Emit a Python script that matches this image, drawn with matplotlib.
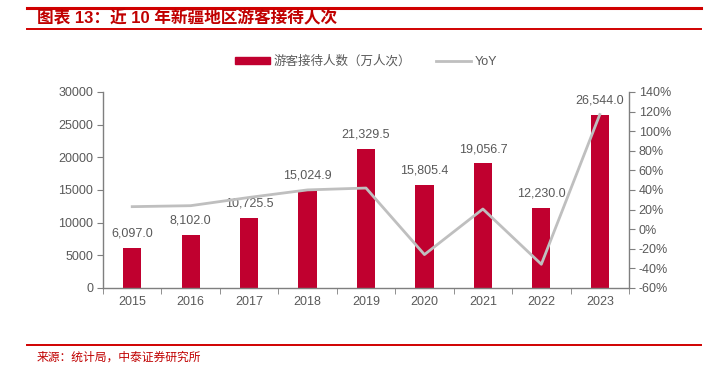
import matplotlib
matplotlib.use("Agg")
import matplotlib.pyplot as plt
from matplotlib.patches import Rectangle
from matplotlib.lines import Line2D
from matplotlib.ticker import FuncFormatter

plt.rcParams['font.family'] = ['Liberation Sans', 'Noto Sans CJK SC', 'DejaVu Sans']

years = ['2015', '2016', '2017', '2018', '2019', '2020', '2021', '2022', '2023']
visitors = [6097.0, 8102.0, 10725.5, 15024.9, 21329.5, 15805.4, 19056.7, 12230.0, 26544.0]
yoy = [23.0, 24.0, 32.4, 40.1, 42.0, -25.9, 20.6, -35.8, 117.0]
bar_label = '游客接待人数（万人次）'
line_label = 'YoY'
title = '图表 13：近 10 年新疆地区游客接待人次'
source = '来源：统计局，中泰证券研究所'

W, H = 708, 367
fig = plt.figure(figsize=(W / 100, H / 100), dpi=100)

red = '#C0002F'
grey_line = '#BFBFBF'
txt = '#595959'
spine_c = '#7F7F7F'

def fx(px):
    return px / W

def fy(py):
    return 1 - py / H

# header / footer lines
fig.add_artist(Line2D([fx(27), fx(701)], [fy(7.5), fy(7.5)], color='#D00000', lw=2.2))
fig.add_artist(Line2D([fx(27), fx(701)], [fy(29.3), fy(29.3)], color='#D00000', lw=1.4))
fig.add_artist(Line2D([fx(27), fx(701)], [fy(345.3), fy(345.3)], color='#D00000', lw=1.4))
fig.text(fx(37), fy(18.5), title, color='#C00000', fontsize=12, fontweight='bold',
         va='center', ha='left')
fig.text(fx(37), fy(358), source, color='#C00000', fontsize=8.5, va='center', ha='left')

ax = fig.add_axes([fx(103), fy(288), fx(629) - fx(103), fy(92) - fy(288)])
x = list(range(len(years)))
bars = ax.bar(x, visitors, width=0.31, color=red, zorder=2)
ax.set_xlim(-0.5, len(years) - 0.5)
ax.set_ylim(0, 30000)
ax.set_yticks(range(0, 30001, 5000))
ax.set_xticks(x)
ax.set_xticklabels(years)
ax.set_xticks([i + 0.5 for i in range(-1, len(years))], minor=True)
ax.tick_params(axis='x', which='major', length=0, pad=6, labelsize=9, labelcolor=txt)
ax.tick_params(axis='x', which='minor', length=4, color=spine_c, direction='out')
ax.tick_params(axis='y', length=4, color=spine_c, labelsize=9, labelcolor=txt, pad=3)
for s in ['top', 'right']:
    ax.spines[s].set_visible(False)
for s in ['left', 'bottom']:
    ax.spines[s].set_color(spine_c)
    ax.spines[s].set_linewidth(1.0)

for xi, v in zip(x, visitors):
    ax.annotate(f'{v:,.1f}', (xi, v), xytext=(0, 6), textcoords='offset points',
                ha='center', va='bottom', fontsize=9, color=txt)

ax2 = ax.twinx()
ax2.plot(x, yoy, color=grey_line, lw=2, zorder=3)
ax2.set_ylim(-60, 140)
ax2.set_yticks(range(-60, 141, 20))
ax2.yaxis.set_major_formatter(FuncFormatter(lambda v, p: f'{int(v)}%'))
ax2.tick_params(axis='y', length=4, color=spine_c, labelsize=9, labelcolor=txt, pad=3)
for s in ['top', 'left', 'bottom']:
    ax2.spines[s].set_visible(False)
ax2.spines['right'].set_color(spine_c)
ax2.spines['right'].set_linewidth(1.0)

# legend
leg_handles = [Rectangle((0, 0), 1, 1, color=red), Line2D([0], [0], color=grey_line, lw=2)]
leg = fig.legend(leg_handles, [bar_label, line_label], loc='center',
                 bbox_to_anchor=(fx(366), fy(61.5)), ncol=2, frameon=False,
                 fontsize=9, handlelength=2.8, handleheight=0.55, columnspacing=2.0,
                 handletextpad=0.3, labelcolor=txt)

fig.savefig('out.png', dpi=100)
